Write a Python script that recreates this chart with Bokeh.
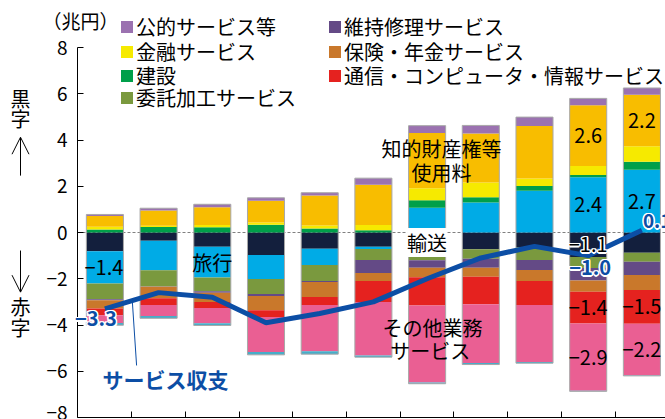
from bokeh.plotting import figure
from bokeh.models import (Range1d, FixedTicker, ColumnDataSource, Legend, LegendItem,
                          Label, Arrow, OpenHead)
from bokeh.embed import file_html
from bokeh.resources import INLINE

# ---------------- data (兆円) ----------------
years = ["2014", "2015", "2016", "2017", "2018", "2019", "2020", "2021", "2022", "2023", "2024"]

transport      = [-0.81, -0.36, -0.62, -0.97, -0.70, -0.62, -0.84, -0.72, -0.64, -1.06, -0.88]
travel         = [-1.40, -1.27, -1.33, -1.04, -0.70, -0.09, 1.07, 1.30, 1.81, 2.39, 2.71]
construction   = [0.13, 0.24, 0.23, 0.33, 0.17, 0.10, 0.33, 0.22, 0.20, 0.10, 0.35]
finance        = [0.12, 0.05, 0.09, 0.10, 0.13, 0.22, 0.51, 0.64, 0.33, 0.39, 0.67]
ip_royalties   = [0.46, 0.66, 0.77, 0.94, 1.30, 1.74, 2.39, 2.12, 2.27, 2.62, 2.23]
government     = [0.07, 0.10, 0.13, 0.13, 0.12, 0.29, 0.32, 0.35, 0.38, 0.30, 0.29]
processing     = [-0.68, -0.70, -0.59, -0.65, -0.70, -0.48, -0.36, -0.42, -0.55, -0.48, -0.39]
maintenance    = [-0.04, -0.02, -0.06, -0.09, -0.04, -0.56, -0.32, -0.38, -0.43, -0.54, -0.57]
insurance      = [-0.36, -0.49, -0.41, -0.61, -0.65, -0.35, -0.41, -0.39, -0.48, -0.48, -0.65]
telecom        = [-0.29, -0.29, -0.26, -0.29, -0.35, -0.90, -1.23, -1.19, -1.04, -1.38, -1.46]
other_business = [-0.33, -0.48, -0.65, -1.52, -2.00, -2.32, -3.33, -2.54, -2.46, -2.90, -2.23]
personal       = [-0.10, -0.10, -0.10, -0.12, -0.12, -0.07, -0.05, -0.07, -0.05, -0.03, -0.02]

services_balance = [-3.3, -2.6, -2.8, -3.9, -3.5, -3.0, -2.0, -1.1, -0.6, -1.0, 0.1]

y_ticks = [-8, -6, -4, -2, 0, 2, 4, 6, 8]

# name, values, colour  (stacking order: positives upward, negatives downward)
series = [
    ("輸送", transport, "#131f3d"),
    ("旅行", travel, "#00abe6"),
    ("建設", construction, "#009f4a"),
    ("金融サービス", finance, "#f6ea00"),
    ("知的財産権等使用料", ip_royalties, "#f8bd00"),
    ("公的サービス等", government, "#9b72b0"),
    ("委託加工サービス", processing, "#7a993e"),
    ("維持修理サービス", maintenance, "#644a86"),
    ("保険・年金サービス", insurance, "#c9782b"),
    ("通信・コンピュータ・情報サービス", telecom, "#e5221f"),
    ("その他業務サービス", other_business, "#ea5f93"),
    ("個人・文化・娯楽サービス", personal, "#47adc9"),
]

legend_col1 = ["公的サービス等", "金融サービス", "建設", "委託加工サービス"]
legend_col2 = ["維持修理サービス", "保険・年金サービス", "通信・コンピュータ・情報サービス"]

FONT = "Noto Sans CJK JP"
BLUE = "#0c4ea5"
n = len(years)
xs = list(range(1, n + 1))
BAR_W = 0.69

W, H = 665, 419
PX_X = 53.7      # pixels per category
PX_Y = 23.125    # pixels per 兆円
X0 = 1 - 104.4 / PX_X          # data x at canvas left
Y1 = 8 + 47 / PX_Y             # data y at canvas top
AXIS_X = X0 + 77 / PX_X        # where the value axis sits

p = figure(width=W, height=H,
           x_range=Range1d(X0, X0 + W / PX_X), y_range=Range1d(Y1 - H / PX_Y, Y1),
           output_backend="svg", toolbar_location=None,
           min_border_left=0, min_border_right=0, min_border_top=0, min_border_bottom=0)
p.xgrid.visible = False
p.ygrid.visible = False
p.outline_line_color = None
p.background_fill_color = "white"

# axes (fixed inside the canvas)
yax = p.yaxis[0]
yax.fixed_location = AXIS_X
yax.bounds = (-8, 8)
yax.ticker = FixedTicker(ticks=y_ticks)
yax.major_label_overrides = {t: (f"−{abs(t)}" if t < 0 else str(t)) for t in y_ticks}
yax.major_label_text_font = FONT
yax.major_label_text_font_size = "19px"
yax.major_label_text_color = "black"
yax.major_tick_in = 6
yax.major_tick_out = 0
yax.minor_tick_line_color = None
yax.major_label_standoff = 10
yax.axis_line_color = "black"
yax.major_tick_line_color = "black"

xax = p.xaxis[0]
xax.fixed_location = -8
xax.bounds = (AXIS_X, X0 + W / PX_X)
xax.ticker = FixedTicker(ticks=[i + 0.5 for i in xs[:-1]])
xax.major_label_overrides = {i + 0.5: "" for i in xs[:-1]}
xax.major_tick_in = 6
xax.major_tick_out = 0
xax.minor_tick_line_color = None
xax.axis_line_color = "black"
xax.major_tick_line_color = "black"

# zero line (dashed, behind the bars)
p.segment(x0=[AXIS_X], y0=[0], x1=[X0 + W / PX_X], y1=[0], line_color="#808080",
          line_width=1, line_dash="3 2")

# stacked bars
pos_base = [0.0] * n
neg_base = [0.0] * n
renderers = {}
segments = {}
for name, vals, color in series:
    bottom, top = [], []
    for i, v in enumerate(vals):
        if v >= 0:
            b = pos_base[i]; t = b + v; pos_base[i] = t
        else:
            t = neg_base[i]; b = t + v; neg_base[i] = b
        bottom.append(b); top.append(t)
    src = ColumnDataSource(dict(x=xs, bottom=bottom, top=top, year=years, value=vals))
    r = p.vbar(x="x", width=BAR_W, bottom="bottom", top="top", source=src,
               fill_color=color, line_color=None)
    renderers[name] = r
    segments[name] = (vals, bottom, top)

# grey bar outlines
p.vbar(x=xs, width=BAR_W, bottom=neg_base, top=pos_base, fill_color=None,
       line_color="#a8a8a8", line_width=1)

# services balance line
p.line(xs, services_balance, line_color=BLUE, line_width=5)


def fmt(v):
    s = f"{abs(v):.1f}"
    return ("−" + s) if v < 0 else s


def add_text(x, y, txt, color="black", size="19px", align="center", halo=False,
             bold=False, xo=0, yo=0, bg=None):
    style = "bold" if bold else "normal"
    if halo:
        for dx, dy in [(-1.5, 0), (1.5, 0), (0, -1.5), (0, 1.5),
                       (-1.2, -1.2), (1.2, 1.2), (-1.2, 1.2), (1.2, -1.2)]:
            p.add_layout(Label(x=x, y=y, text=txt, x_offset=xo + dx, y_offset=yo + dy,
                               text_color="white", text_font=FONT, text_font_size=size,
                               text_align=align, text_baseline="middle", text_font_style=style))
    kw = {}
    if bg:
        kw = dict(background_fill_color=bg, background_fill_alpha=1.0)
    p.add_layout(Label(x=x, y=y, text=txt, x_offset=xo, y_offset=yo, text_color=color,
                       text_font=FONT, text_font_size=size, text_align=align,
                       text_baseline="middle", text_font_style=style, **kw))


# value labels at segment middles
seg_labels = [("旅行", 0, False), ("旅行", 9, False), ("旅行", 10, False),
              ("知的財産権等使用料", 9, False), ("知的財産権等使用料", 10, False),
              ("通信・コンピュータ・情報サービス", 9, False), ("通信・コンピュータ・情報サービス", 10, False),
              ("その他業務サービス", 9, False), ("その他業務サービス", 10, False),
              ("輸送", 9, True)]
for name, i, halo in seg_labels:
    vals, bottom, top = segments[name]
    add_text(xs[i], (bottom[i] + top[i]) / 2, fmt(vals[i]), size="20px", halo=halo,
             xo=-1 if i == 0 else 0)

# balance labels
add_text(xs[0], services_balance[0], fmt(services_balance[0]), color=BLUE, halo=True, bold=True,
         size="20px", xo=-9, yo=-10)
add_text(xs[9], services_balance[9], fmt(services_balance[9]), color=BLUE, halo=True, bold=True,
         size="20px", xo=2, yo=-12)
add_text(xs[10], services_balance[10], fmt(services_balance[10]), color=BLUE, halo=True, bold=True,
         size="19px", align="left", xo=1, yo=9)

# category annotations
add_text(3.0, -1.30, "旅行", size="20px")
add_text(7.27, 3.63, "知的財産権等", size="20px")
add_text(7.27, 2.59, "使用料", size="20px")
add_text(7.0, -0.43, "輸送", size="20px", bg="white")
add_text(7.1, -4.11, "その他業務", size="20px")
add_text(7.06, -5.10, "サービス", size="20px")

# series name for line + leader
p.segment(x0=[1.51], y0=[-2.95], x1=[1.59], y1=[-5.75], line_color=BLUE, line_width=1)
add_text(2.13, -6.32, "サービス収支", color=BLUE, size="21px", bold=True)

# unit and side labels
SIDE_X = X0 + 20 / PX_X
add_text(X0 + 42 / PX_X, 9.17, "（兆円）", align="left")
add_text(SIDE_X, 5.80, "黒", size="20px")
add_text(SIDE_X, 4.92, "字", size="20px")
add_text(SIDE_X, -3.18, "赤", size="20px")
add_text(SIDE_X, -4.10, "字", size="20px")
p.add_layout(Arrow(x_start=SIDE_X, y_start=2.46, x_end=SIDE_X, y_end=4.12,
                   end=OpenHead(size=17, line_width=1, line_color="black"),
                   line_width=1, line_color="black"))
p.add_layout(Arrow(x_start=SIDE_X, y_start=-0.78, x_end=SIDE_X, y_end=-2.58,
                   end=OpenHead(size=17, line_width=1, line_color="black"),
                   line_width=1, line_color="black"))


# legend: one entry box per item, arranged in two columns
ITEM_H = 28
ROW_Y = [27, 52, 76, 98]   # centre of each legend row, pixels from the top


def make_legend(names, left):
    for k, nm in enumerate(names):
        leg = Legend(items=[LegendItem(label=nm, renderers=[renderers[nm]])],
                     location=(left, H - ROW_Y[k] - ITEM_H // 2), orientation="vertical",
                     label_text_font=FONT, label_text_font_size="20px", label_text_color="black",
                     glyph_width=15, glyph_height=15, label_standoff=2, spacing=0,
                     label_height=20, padding=0, margin=0,
                     border_line_color=None, background_fill_alpha=0)
        p.add_layout(leg)


make_legend(legend_col1, 119)
make_legend(legend_col2, 327)

open("out.html", "w").write(file_html(p, INLINE))
